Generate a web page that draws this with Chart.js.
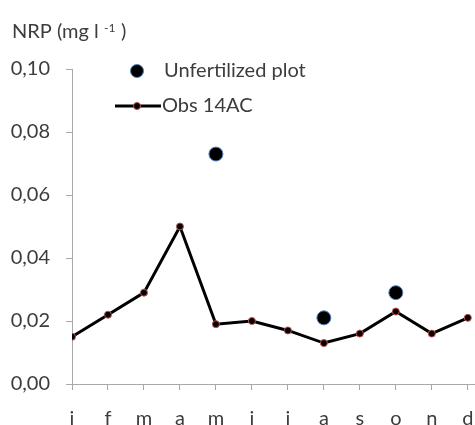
<!DOCTYPE html>
<html>
<head>
<meta charset="utf-8">
<script src="https://cdn.jsdelivr.net/npm/chart.js@4.4.1/dist/chart.umd.min.js"></script>
<style>
  html, body { margin: 0; padding: 0; background: #ffffff; }
  #wrap { width: 475px; height: 425px; position: relative; overflow: hidden; }
</style>
</head>
<body>
<div id="wrap"><canvas id="c" width="475" height="425"></canvas></div>
<script>
// Month initials (Jan..Dec)
const months = ['j', 'f', 'm', 'a', 'm', 'j', 'j', 'a', 's', 'o', 'n', 'd'];
// Observed NRP at station 14AC (mg l-1)
const obs14AC = [0.015, 0.022, 0.029, 0.050, 0.019, 0.020, 0.017, 0.013, 0.016, 0.023, 0.016, 0.021];
// Unfertilized plot samples (only some months measured)
const unfertilized = [null, null, null, null, 0.073, null, null, 0.021, null, 0.029, null, null];
// Y axis tick values
const yTicks = [0, 0.02, 0.04, 0.06, 0.08, 0.10];

const FONT = 'Lato';
const FSIZE = 20;
const TEXT = '#3c3c3c';
const AXIS = '#a8a8a8';

const toPoints = arr => arr.map((v, i) => ({ x: i, y: v })).filter(p => p.y !== null);

// Title with superscript unit and a manually placed legend
const annotations = {
  id: 'annotations',
  afterDraw(chart) {
    const ctx = chart.ctx;
    ctx.save();
    ctx.fillStyle = TEXT;
    ctx.textBaseline = 'alphabetic';
    ctx.textAlign = 'left';
    // Axis title: NRP (mg l -1)
    ctx.font = `${FSIZE}px "${FONT}"`;
    const base = 38;
    ctx.fillText('NRP (mg l', 12, base);
    ctx.font = `12px "${FONT}"`;
    ctx.fillText('-1', 104, base - 6);
    ctx.font = `${FSIZE}px "${FONT}"`;
    ctx.fillText(')', 121, base);

    // Legend
    const dsU = chart.data.datasets[1];
    const dsO = chart.data.datasets[0];
    ctx.textBaseline = 'middle';
    const y1 = 71, y2 = 106;
    // Unfertilized plot entry
    ctx.beginPath();
    ctx.arc(137, y1, dsU.pointRadius - 0.5, 0, Math.PI * 2);
    ctx.fillStyle = dsU.pointBackgroundColor;
    ctx.fill();
    ctx.lineWidth = dsU.pointBorderWidth;
    ctx.strokeStyle = dsU.pointBorderColor;
    ctx.stroke();
    ctx.fillStyle = TEXT;
    ctx.fillText(dsU.label, 164, y1);
    // Obs 14AC entry
    ctx.beginPath();
    ctx.moveTo(115, y2);
    ctx.lineTo(161, y2);
    ctx.strokeStyle = dsO.borderColor;
    ctx.lineWidth = dsO.borderWidth;
    ctx.stroke();
    ctx.beginPath();
    ctx.arc(137, y2, dsO.pointRadius, 0, Math.PI * 2);
    ctx.fillStyle = dsO.pointBackgroundColor;
    ctx.fill();
    ctx.lineWidth = dsO.pointBorderWidth;
    ctx.strokeStyle = dsO.pointBorderColor;
    ctx.stroke();
    ctx.fillStyle = TEXT;
    ctx.fillText(dsO.label, 162, y2);
    ctx.restore();
  }
};

new Chart(document.getElementById('c'), {
  type: 'line',
  data: {
    datasets: [
      {
        label: 'Obs 14AC',
        data: toPoints(obs14AC),
        borderColor: '#000000',
        borderWidth: 3,
        tension: 0,
        pointRadius: 3.5,
        pointHoverRadius: 3.5,
        pointBackgroundColor: '#000000',
        pointBorderColor: '#c0504d',
        pointBorderWidth: 1
      },
      {
        label: 'Unfertilized plot',
        data: toPoints(unfertilized),
        showLine: false,
        pointRadius: 7,
        pointHoverRadius: 7,
        pointBackgroundColor: '#000000',
        pointBorderColor: '#4f81bd',
        pointBorderWidth: 1
      }
    ]
  },
  options: {
    responsive: false,
    animation: false,
    events: [],
    layout: { autoPadding: false, padding: { top: 69, left: 0, right: 0, bottom: 0 } },
    plugins: { legend: { display: false }, tooltip: { enabled: false }, title: { display: false } },
    scales: {
      x: {
        type: 'linear',
        min: 0,
        max: 11.2,
        afterBuildTicks(scale) {
          scale.ticks = months.map((m, i) => ({ value: i }));
        },
        afterFit(scale) {
          scale.height = 41;
          scale.paddingLeft = 0;
          scale.paddingRight = 0;
        },
        grid: { drawOnChartArea: false, drawTicks: true, tickLength: 6, color: AXIS, lineWidth: 1 },
        border: { display: true, color: AXIS, width: 1 },
        ticks: {
          autoSkip: false,
          maxRotation: 0,
          padding: 17,
          color: TEXT,
          font: { family: FONT, size: FSIZE },
          callback: v => months[v]
        }
      },
      y: {
        min: 0,
        max: 0.1,
        afterBuildTicks(scale) {
          scale.ticks = yTicks.map(v => ({ value: v }));
        },
        afterFit(scale) {
          scale.width = 72;
          scale.paddingTop = 0;
          scale.paddingBottom = 0;
        },
        grid: { drawOnChartArea: false, drawTicks: true, tickLength: 6, color: AXIS, lineWidth: 1 },
        border: { display: true, color: AXIS, width: 1 },
        ticks: {
          padding: 16,
          color: TEXT,
          font: { family: FONT, size: FSIZE },
          callback: v => v.toFixed(2).replace('.', ',')
        }
      }
    }
  },
  plugins: [annotations]
});
</script>
</body>
</html>
